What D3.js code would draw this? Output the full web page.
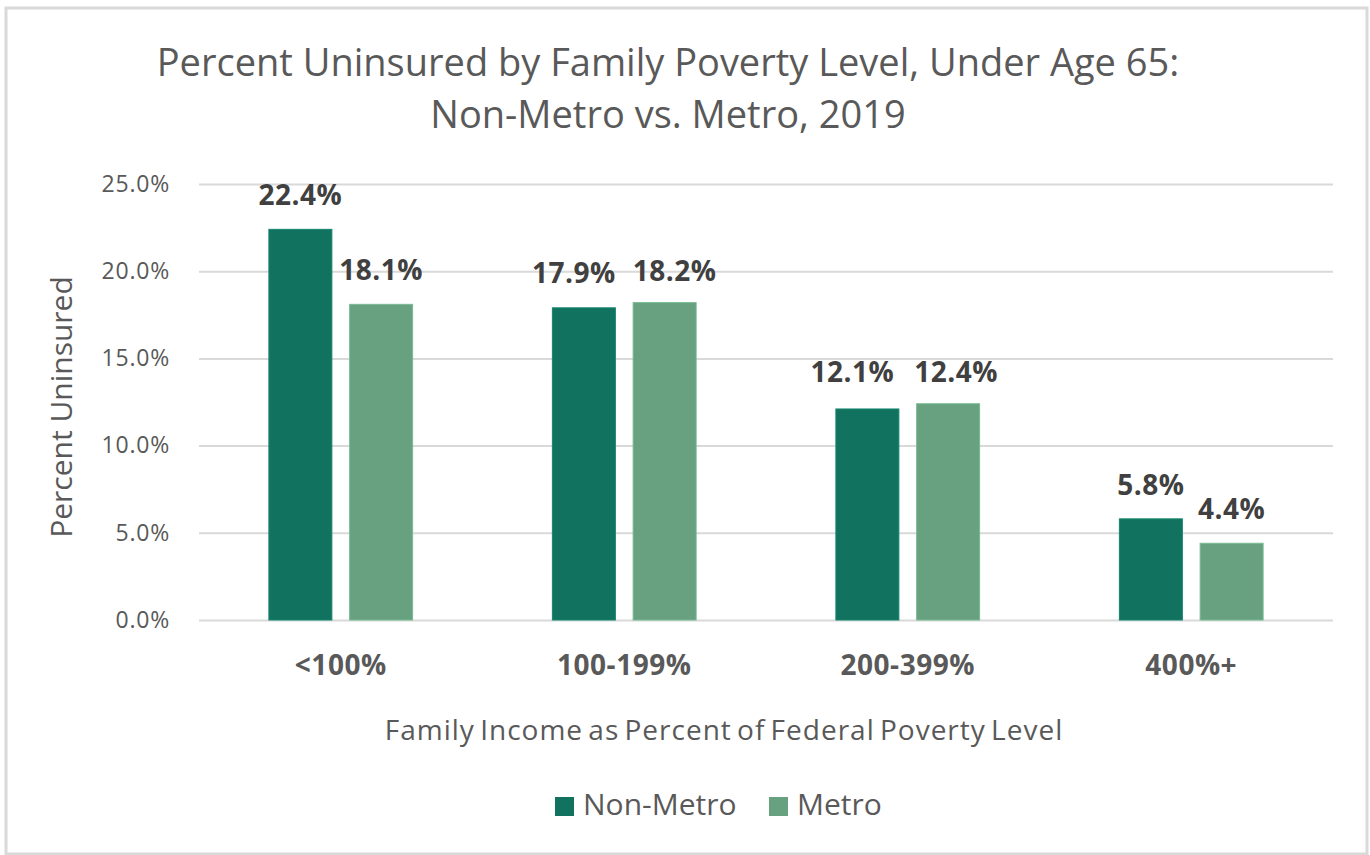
<!DOCTYPE html>
<html>
<head>
<meta charset="utf-8">
<script src="https://cdn.jsdelivr.net/npm/d3@7"></script>
<style>
  body { margin: 0; background: #fff; }
  text { font-family: "Open Sans", "Noto Sans", sans-serif; }
</style>
</head>
<body>
<svg id="chart" width="1370" height="855"></svg>
<script>
// data
const categories = ['<100%', '100-199%', '200-399%', '400%+']
const seriesNames = ['Non-Metro', 'Metro']
const nonMetro = [22.4, 17.9, 12.1, 5.8]
const metro = [18.1, 18.2, 12.4, 4.4]
const yTicks = [0, 5, 10, 15, 20, 25]
const titleLines = ['Percent Uninsured by Family Poverty Level, Under Age 65:', 'Non-Metro vs. Metro, 2019']

const colors = ['#11735f', '#67a17f']
// labels that were pushed apart by hand in the original (dx, dy)
const nudges = [
  [[0, 0], [-10, -1], [-15, -3], [0, 0]],
  [[0, 0], [10, 2], [8, 2], [0, 0]],
]

const svg = d3.select('#chart')
const plot = { left: 199, right: 1333, top: 184, bottom: 620 }

// border
svg.append('rect')
  .attr('x', 6).attr('y', 8)
  .attr('width', 1361).attr('height', 846)
  .attr('fill', 'none')
  .attr('stroke', '#d9d9d9')
  .attr('stroke-width', 3)

// title
svg.append('g').selectAll('text')
  .data(titleLines)
  .join('text')
  .attr('x', 668)
  .attr('y', (d, i) => 76 + i * 52)
  .attr('text-anchor', 'middle')
  .attr('fill', '#595959')
  .style('font-size', '38px')
  .text(d => d)

const y = d3.scaleLinear()
  .domain([0, 25])
  .range([plot.bottom, plot.top])

const x0 = d3.scaleBand()
  .domain(categories)
  .range([plot.left, plot.right])
  .paddingInner(0.493)
  .paddingOuter(0.2465)

const x1 = d3.scaleBand()
  .domain(seriesNames)
  .range([0, x0.bandwidth()])
  .paddingInner(0.22)

// gridlines + y labels
const yAxis = svg.append('g')
  .attr('transform', 'translate(' + plot.left + ',0)')
  .call(d3.axisLeft(y)
    .tickValues(yTicks)
    .tickSize(-(plot.right - plot.left))
    .tickPadding(29)
    .tickFormat(d => d.toFixed(1) + '%'))
yAxis.select('.domain').remove()
yAxis.selectAll('.tick line')
  .attr('stroke', '#d9d9d9')
  .attr('stroke-width', 2)
yAxis.selectAll('.tick text')
  .attr('fill', '#595959')
  .style('font-family', '"Open Sans", sans-serif')
  .style('font-size', '23px')
  .style('letter-spacing', '0.8px')

const series = [nonMetro, metro]

const groups = svg.append('g').selectAll('g')
  .data(series)
  .join('g')
  .attr('fill', (d, i) => colors[i])

groups.each(function (vals, si) {
  const g = d3.select(this)
  g.selectAll('rect')
    .data(vals)
    .join('rect')
    .attr('x', (d, i) => x0(categories[i]) + x1(seriesNames[si]))
    .attr('y', d => y(d))
    .attr('width', x1.bandwidth())
    .attr('height', d => y(0) - y(d))
    .attr('stroke', d3.color(colors[si]).brighter(0.4))
    .attr('stroke-width', 1)

  g.selectAll('text')
    .data(vals)
    .join('text')
    .attr('x', (d, i) => x0(categories[i]) + x1(seriesNames[si]) + x1.bandwidth() / 2 + nudges[si][i][0])
    .attr('y', (d, i) => y(d) - 24 + nudges[si][i][1])
    .attr('text-anchor', 'middle')
    .attr('fill', '#404040')
    .style('font-size', '28px')
    .style('font-weight', 'bold')
    .style('letter-spacing', '0.5px')
    .text(d => d.toFixed(1) + '%')
})

// category labels
svg.append('g').selectAll('text')
  .data(categories)
  .join('text')
  .attr('x', d => x0(d) + x0.bandwidth() / 2)
  .attr('y', 675)
  .attr('text-anchor', 'middle')
  .attr('fill', '#595959')
  .style('font-size', '28px')
  .style('font-weight', 'bold')
  .style('letter-spacing', '0.5px')
  .text(d => d)

// axis titles
svg.append('text')
  .attr('x', 724)
  .attr('y', 740)
  .attr('text-anchor', 'middle')
  .attr('fill', '#595959')
  .style('font-size', '28px')
  .style('letter-spacing', '1px')
  .style('word-spacing', '-3px')
  .text('Family Income as Percent of Federal Poverty Level')

svg.append('text')
  .attr('transform', 'translate(72,407) rotate(-90)')
  .attr('text-anchor', 'middle')
  .attr('fill', '#595959')
  .style('font-size', '30px')
  .text('Percent Uninsured')

// legend
const legendX = [555, 769]
const legend = svg.append('g').selectAll('g')
  .data(seriesNames)
  .join('g')
  .attr('transform', (d, i) => 'translate(' + legendX[i] + ',797)')
legend.append('rect')
  .attr('width', 19).attr('height', 19)
  .attr('fill', (d, i) => colors[i])
legend.append('text')
  .attr('x', 28)
  .attr('y', 18)
  .attr('fill', '#595959')
  .style('font-size', '30px')
  .text(d => d)
</script>
</body>
</html>
